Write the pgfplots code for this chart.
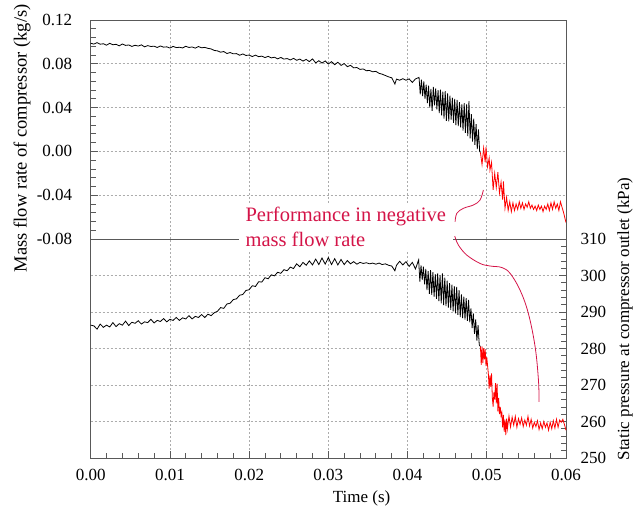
\documentclass[border=0pt]{standalone}
\usepackage{fontspec}
\setmainfont{Liberation Serif}
\usepackage{pgfplots}
\pgfplotsset{compat=1.18}
\definecolor{annot}{RGB}{212,20,72}

\pgfplotsset{
  common/.style={
    scale only axis, width=475.3pt, height=219pt,
    xmin=0, xmax=0.06,
    xtick={0,0.01,0.02,0.03,0.04,0.05,0.06},
    scaled x ticks=false,
    grid=major,
    major grid style={gray!65, line width=0.7pt, dash pattern=on 2pt off 2pt},
    axis line style={black!65, line width=0.9pt},
    tick style={black!65, line width=0.8pt},
    tick align=inside,
    major tick length=7pt, minor tick length=5pt,
    tick label style={font=\fontsize{17}{19}\selectfont},
    label style={font=\fontsize{17}{20}\selectfont},
    /pgf/number format/assume math mode=true,
  },
  twodig/.style={/pgf/number format/fixed, /pgf/number format/fixed zerofill,
    /pgf/number format/precision=2},
}

\begin{document}
\begin{tikzpicture}
\useasboundingbox (-90.7pt,-51pt) rectangle (548.3pt,458pt);

% mass flow rate (top)
\begin{axis}[common, at={(0,219pt)}, anchor=south west,
    ymin=-0.08, ymax=0.12,
    ytick={-0.08,-0.04,0,0.04,0.08,0.12},
    ytick pos=left, minor y tick num=4,
    xmajorticks=false, xticklabels={},
    yticklabel style={twodig, xshift=-15pt},
    ylabel={Mass flow rate of compressor (kg/s)},
    ylabel style={at={(axis description cs:-0.1445,0.46)}, anchor=center, rotate=0,
      font=\fontsize{18.5}{20}\selectfont},
]
\addplot[black, line width=0.8pt] coordinates {
(0.0000,0.0988) (0.0004,0.0980) (0.0008,0.0993) (0.0012,0.0979) (0.0016,0.0983)
(0.0020,0.0970) (0.0024,0.0987) (0.0028,0.0974) (0.0032,0.0978) (0.0036,0.0964)
(0.0040,0.0981) (0.0044,0.0968) (0.0048,0.0972) (0.0052,0.0959) (0.0056,0.0969)
(0.0060,0.0962) (0.0064,0.0973) (0.0068,0.0955) (0.0072,0.0966) (0.0076,0.0958)
(0.0080,0.0961) (0.0084,0.0949) (0.0088,0.0963) (0.0092,0.0952) (0.0096,0.0955)
(0.0100,0.0944) (0.0104,0.0959) (0.0108,0.0948) (0.0112,0.0951) (0.0116,0.0945)
(0.0120,0.0960) (0.0124,0.0949) (0.0128,0.0954) (0.0132,0.0943) (0.0136,0.0958)
(0.0140,0.0946) (0.0144,0.0950) (0.0148,0.0941) (0.0152,0.0936) (0.0156,0.0922)
(0.0160,0.0918) (0.0164,0.0906) (0.0168,0.0912) (0.0172,0.0894) (0.0176,0.0903)
(0.0180,0.0891) (0.0184,0.0893) (0.0188,0.0878) (0.0192,0.0890) (0.0196,0.0876)
(0.0200,0.0880) (0.0204,0.0866) (0.0208,0.0879) (0.0212,0.0865) (0.0216,0.0870)
(0.0220,0.0857) (0.0224,0.0868) (0.0228,0.0854) (0.0232,0.0860) (0.0236,0.0845)
(0.0240,0.0858) (0.0244,0.0843) (0.0248,0.0848) (0.0252,0.0835) (0.0256,0.0850)
(0.0260,0.0832) (0.0264,0.0843) (0.0268,0.0825) (0.0272,0.0840) (0.0276,0.0820)
(0.0280,0.0845) (0.0284,0.0808) (0.0288,0.0828) (0.0292,0.0807) (0.0296,0.0826)
(0.0300,0.0798) (0.0304,0.0820) (0.0308,0.0792) (0.0312,0.0814) (0.0316,0.0785)
(0.0320,0.0802) (0.0324,0.0774) (0.0328,0.0786) (0.0332,0.0763) (0.0336,0.0766)
(0.0340,0.0749) (0.0344,0.0753) (0.0348,0.0737) (0.0352,0.0739) (0.0356,0.0727)
(0.0360,0.0731) (0.0364,0.0713) (0.0368,0.0705) (0.0372,0.0693) (0.0376,0.0681)
(0.0380,0.0672) (0.0384,0.0615) (0.0386,0.0660) (0.0390,0.0650) (0.0394,0.0664)
(0.0398,0.0650) (0.0402,0.0662) (0.0406,0.0630) (0.0410,0.0662)
(0.04145,0.0676) (0.0416,0.0520) (0.04175,0.0655) (0.0419,0.0505) (0.04205,0.0640)
(0.0422,0.0480) (0.04235,0.0610) (0.0425,0.0440) (0.04265,0.0600) (0.0428,0.0400)
(0.04295,0.0570) (0.0431,0.0370) (0.04325,0.0590) (0.0434,0.0420) (0.04355,0.0575)
(0.0437,0.0385) (0.04385,0.0560) (0.0440,0.0350) (0.04415,0.0565) (0.0443,0.0330)
(0.04445,0.0545) (0.0446,0.0300) (0.04475,0.0550) (0.0449,0.0280) (0.04505,0.0530)
(0.0452,0.0275) (0.04535,0.0510) (0.0455,0.0290) (0.04565,0.0490) (0.0458,0.0260)
(0.04595,0.0480) (0.0461,0.0240) (0.04625,0.0470) (0.0464,0.0230) (0.04655,0.0450)
(0.0467,0.0220) (0.04685,0.0430) (0.0470,0.0190) (0.04715,0.0440) (0.0473,0.0170)
(0.04745,0.0430) (0.0476,0.0140) (0.04775,0.0460) (0.0479,0.0120) (0.04805,0.0340)
(0.0482,0.0090) (0.04835,0.0300) (0.0485,0.0060) (0.04865,0.0250) (0.0488,0.0020)
(0.04895,0.0200) (0.0491,0.0000) (0.0492,-0.0010)
};
\addplot[red, line width=0.8pt] coordinates {
(0.0492,-0.0010) (0.0494,-0.0120) (0.0496,0.0030) (0.0498,-0.0100) (0.0499,0.0040)
(0.0501,-0.0140) (0.0503,-0.0060) (0.0504,-0.0170) (0.0506,-0.0100) (0.0508,-0.0350)
(0.0510,-0.0200) (0.0512,-0.0330) (0.0514,-0.0190) (0.0516,-0.0380) (0.0518,-0.0280)
(0.0520,-0.0440) (0.0521,-0.0274) (0.0523,-0.0520) (0.0525,-0.0420) (0.0527,-0.0540)
(0.0529,-0.0460) (0.0531,-0.0550) (0.0533,-0.0470) (0.0535,-0.0540) (0.0537,-0.0480)
(0.0539,-0.0530) (0.0541,-0.0460) (0.0543,-0.0520) (0.0545,-0.0470) (0.0547,-0.0530)
(0.0549,-0.0480) (0.0551,-0.0510) (0.0553,-0.0460) (0.0555,-0.0520) (0.0557,-0.0490)
(0.0559,-0.0530) (0.0561,-0.0500) (0.0563,-0.0540) (0.0565,-0.0490) (0.0567,-0.0530)
(0.0569,-0.0500) (0.0571,-0.0550) (0.0573,-0.0500) (0.0575,-0.0530) (0.0577,-0.0480)
(0.0579,-0.0540) (0.0581,-0.0470) (0.0583,-0.0530) (0.0585,-0.0460) (0.0587,-0.0520)
(0.0589,-0.0480) (0.0591,-0.0540) (0.0593,-0.0460) (0.0595,-0.0510) (0.0597,-0.0560)
(0.0599,-0.0620) (0.0600,-0.0650)
};
\end{axis}

% static pressure (bottom)
\begin{axis}[common, at={(0,0)}, anchor=south west, clip=false,
    ymin=250, ymax=310,
    ytick={250,260,270,280,290,300,310},
    ytick pos=right, yticklabel pos=right, xtick pos=bottom,
    minor x tick num=4, minor y tick num=4,
    xticklabel style={twodig, yshift=-8pt},
    yticklabel style={xshift=11pt},
    xlabel={Time (s)},
    xlabel style={at={(axis description cs:0.57,-0.183)}, anchor=center},
    ylabel={Static pressure at compressor outlet (kPa)},
    ylabel style={at={(axis description cs:1.124,0.635)}, anchor=center, rotate=0},
]
\addplot[black, line width=0.8pt] coordinates {
(0.0000,286.4) (0.0004,286.2) (0.0008,285.3) (0.0012,286.7) (0.0016,285.8)
(0.0020,286.4) (0.0024,285.9) (0.0028,287.1) (0.0032,286.0) (0.0036,286.8)
(0.0040,286.4) (0.0044,287.5) (0.0048,286.3) (0.0052,287.2) (0.0056,286.9)
(0.0060,287.6) (0.0064,286.7) (0.0068,287.3) (0.0072,287.1) (0.0076,288.0)
(0.0080,287.0) (0.0084,287.7) (0.0088,287.4) (0.0092,288.2) (0.0096,287.3)
(0.0100,288.0) (0.0104,287.7) (0.0108,288.5) (0.0112,287.7) (0.0116,288.4)
(0.0120,288.1) (0.0124,289.0) (0.0128,288.1) (0.0132,288.8) (0.0136,288.5)
(0.0140,289.3) (0.0144,288.5) (0.0148,289.4) (0.0152,289.0) (0.0156,289.8)
(0.0160,290.2) (0.0164,291.2) (0.0168,291.0) (0.0172,292.2) (0.0176,292.4)
(0.0180,293.4) (0.0184,293.6) (0.0188,294.6) (0.0192,294.8) (0.0196,295.9)
(0.0200,296.1) (0.0204,297.2) (0.0208,297.0) (0.0212,298.3) (0.0216,298.2)
(0.0220,299.4) (0.0224,299.1) (0.0228,300.2) (0.0232,299.9) (0.0236,300.9)
(0.0240,300.6) (0.0244,301.6) (0.0248,301.3) (0.0252,302.3) (0.0256,301.9)
(0.0260,303.2) (0.0264,302.4) (0.0268,303.6) (0.0272,302.8) (0.0276,304.0)
(0.0280,302.9) (0.0284,304.5) (0.0288,303.0) (0.0292,304.8) (0.0296,303.1)
(0.0300,304.9) (0.0304,303.0) (0.0308,304.6) (0.0312,302.9) (0.0316,304.4)
(0.0320,303.0) (0.0324,304.1) (0.0328,303.2) (0.0332,303.8) (0.0336,303.1)
(0.0340,303.6) (0.0344,303.3) (0.0348,303.5) (0.0352,303.2) (0.0356,303.4)
(0.0360,303.1) (0.0364,303.4) (0.0368,303.0) (0.0372,303.2) (0.0376,302.8)
(0.0380,302.6) (0.0384,301.3) (0.0386,302.8) (0.0390,303.9) (0.0394,302.9)
(0.0398,303.8) (0.0402,302.5) (0.0406,303.6) (0.0410,301.8) (0.0414,304.3)
(0.04155,298.3) (0.0417,302.8) (0.04185,298.8) (0.0420,302.4) (0.04215,297.6)
(0.0423,301.8) (0.04245,296.0) (0.0426,301.2) (0.04275,295.0) (0.0429,301.5)
(0.04305,294.7) (0.0432,300.9) (0.04335,294.2) (0.0435,300.4) (0.04365,293.6)
(0.0438,300.6) (0.04395,293.0) (0.0441,300.1) (0.04425,292.4) (0.0444,300.6)
(0.04455,291.9) (0.0447,299.4) (0.04485,291.6) (0.0450,298.6) (0.04515,291.2)
(0.0453,297.9) (0.04545,290.6) (0.0456,297.5) (0.04575,290.2) (0.0459,297.1)
(0.04605,289.6) (0.0462,296.9) (0.04635,289.2) (0.0465,296.0) (0.04665,288.6)
(0.0468,294.8) (0.04695,288.3) (0.0471,294.2) (0.04725,287.9) (0.0474,293.8)
(0.04755,287.6) (0.0477,293.3) (0.04785,287.2) (0.0480,291.0) (0.04815,285.6)
(0.0483,289.6) (0.04845,284.0) (0.0486,288.0) (0.04875,282.2) (0.0489,286.4)
(0.04905,281.0) (0.0492,280.5)
};
\addplot[red, line width=0.8pt] coordinates {
(0.0492,280.5) (0.0493,275.5) (0.0494,280.6) (0.0495,276.0) (0.0496,280.0)
(0.0497,277.0) (0.0498,279.8) (0.0499,275.2) (0.0500,277.6) (0.0502,273.0)
(0.0503,269.0) (0.0504,272.6) (0.0505,269.5) (0.0506,273.2) (0.0507,266.5)
(0.0508,264.1) (0.0509,268.0) (0.0510,266.0) (0.0511,270.5) (0.0512,265.0)
(0.0513,270.4) (0.0514,262.8) (0.0515,266.5) (0.0516,262.0) (0.0517,264.0)
(0.0518,261.6) (0.0519,262.5) (0.0520,258.4) (0.0521,261.8) (0.0522,257.2)
(0.0523,260.5) (0.0524,256.3) (0.0525,260.8) (0.0526,258.0) (0.0528,261.5)
(0.0530,258.5) (0.0532,261.2) (0.0534,259.0) (0.0536,261.4) (0.0538,258.4)
(0.0540,260.8) (0.0542,259.2) (0.0544,261.0) (0.0546,258.6) (0.0548,260.4)
(0.0550,259.0) (0.0552,261.4) (0.0554,258.8) (0.0556,260.6) (0.0558,258.2)
(0.0560,259.8) (0.0562,258.6) (0.0564,260.2) (0.0566,257.8) (0.0568,259.6)
(0.0570,258.0) (0.0572,260.0) (0.0574,258.4) (0.0576,259.6) (0.0578,257.6)
(0.0580,259.8) (0.0582,258.0) (0.0584,260.2) (0.0586,258.2) (0.0588,260.6)
(0.0590,258.4) (0.0592,260.4) (0.0594,259.8) (0.0596,260.6) (0.0598,259.2)
(0.0600,257.6)
};
% annotation
\node[fill=white, text=annot, align=left, inner xsep=7pt, inner ysep=5pt,
      font=\fontsize{20.5}{25}\selectfont]
  at (axis cs:0.0322,313.2) {Performance in negative\\mass flow rate};
\draw[annot, line width=0.8pt] plot[smooth, tension=0.6] coordinates {
  (axis cs:0.04600,314.74) (axis cs:0.04622,317.04) (axis cs:0.04705,318.41)
  (axis cs:0.04831,319.32) (axis cs:0.04915,320.68) (axis cs:0.04957,323.42)};
\draw[annot, line width=0.8pt] plot[smooth, tension=0.6] coordinates {
  (axis cs:0.04596,310.8) (axis cs:0.04641,308.36) (axis cs:0.04747,305.6)
  (axis cs:0.04915,303.3) (axis cs:0.05042,302.6) (axis cs:0.05189,302.2)
  (axis cs:0.05294,300.6) (axis cs:0.05420,296.0) (axis cs:0.05525,289.6)
  (axis cs:0.05610,280.5) (axis cs:0.05652,271.4) (axis cs:0.05660,265.4)};
\end{axis}
\end{tikzpicture}
\end{document}
